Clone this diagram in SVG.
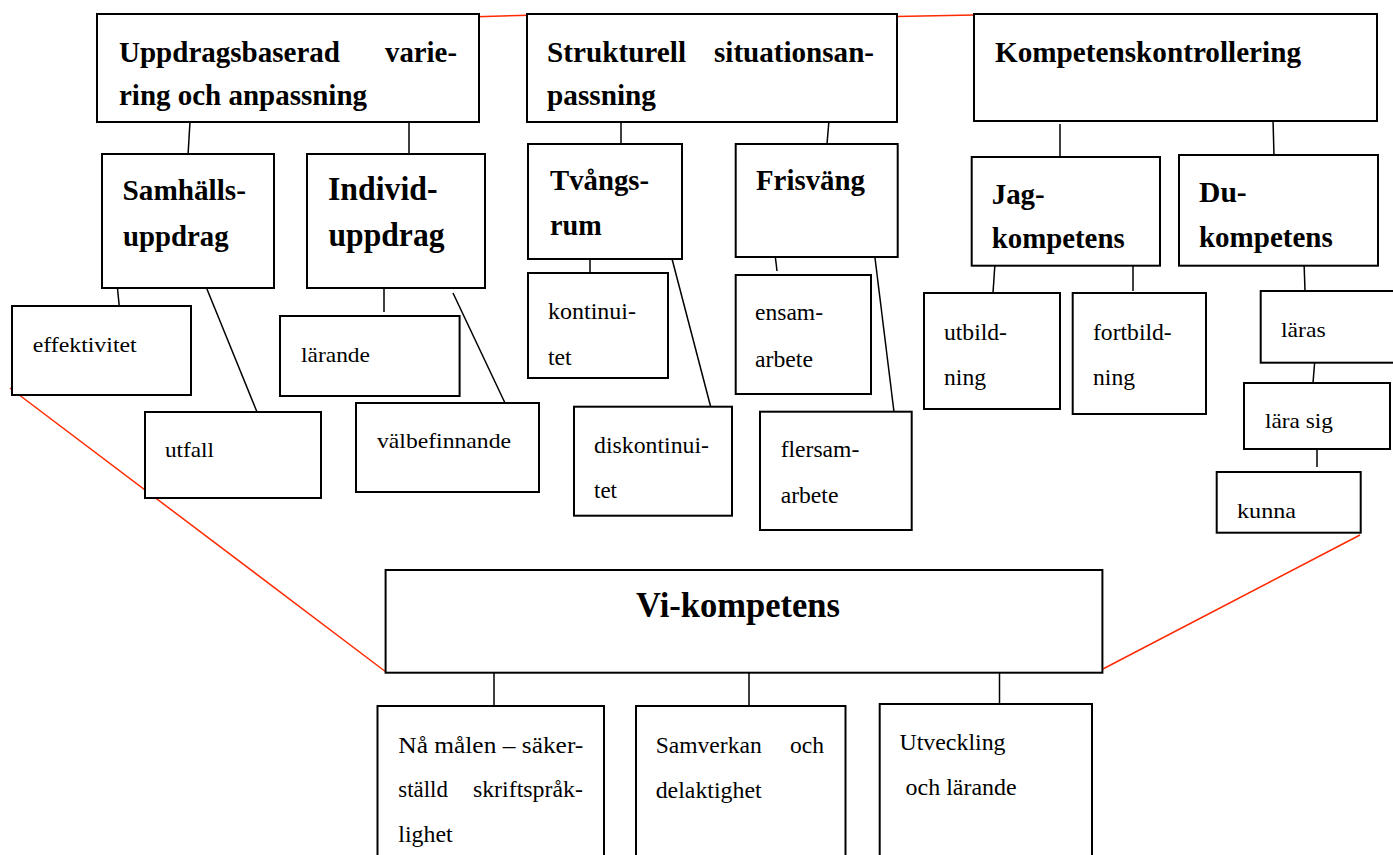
<svg xmlns="http://www.w3.org/2000/svg" width="1393" height="855" viewBox="0 0 1393 855">
<style>
  rect { fill: #fff; stroke: #000; stroke-width: 2; }
  .c { stroke: #000; stroke-width: 1.5; fill: none; }
  .r { stroke: #ff2a00; stroke-width: 1.5; fill: none; }
  text { font-family: "Liberation Serif", "Times New Roman", serif; fill: #000; }
  .h { font-weight: bold; font-size: 30px; }
  .h2 { font-weight: bold; font-size: 29px; }
  .h3 { font-weight: bold; font-size: 33px; }
  .n { font-size: 22px; }
  .b { font-size: 23px; }
  .v { font-weight: bold; font-size: 36px; }
</style>
<rect x="0" y="0" width="1393" height="855" style="stroke:none"/>
<g id="connectors">
  <line class="c" x1="190" y1="122" x2="188" y2="155"/>
  <line class="c" x1="409" y1="118" x2="409" y2="158"/>
  <line class="c" x1="621" y1="122" x2="621" y2="145"/>
  <line class="c" x1="829" y1="120" x2="827" y2="144"/>
  <line class="c" x1="1060" y1="124" x2="1060" y2="157"/>
  <line class="c" x1="1273" y1="119" x2="1274" y2="156"/>
  <line class="c" x1="117" y1="283" x2="119.5" y2="309"/>
  <line class="c" x1="204.5" y1="283" x2="257" y2="412"/>
  <line class="c" x1="384" y1="283" x2="384" y2="312"/>
  <line class="c" x1="453" y1="293" x2="505" y2="403"/>
  <line class="c" x1="590" y1="255" x2="590" y2="275"/>
  <line class="c" x1="671" y1="255" x2="711" y2="408"/>
  <line class="c" x1="775" y1="254" x2="777" y2="271"/>
  <line class="c" x1="875" y1="258" x2="894" y2="412"/>
  <line class="c" x1="995" y1="263" x2="993" y2="293"/>
  <line class="c" x1="1133" y1="266" x2="1133" y2="291"/>
  <line class="c" x1="1304" y1="261" x2="1305" y2="291"/>
  <line class="c" x1="1315" y1="358" x2="1313" y2="383"/>
  <line class="c" x1="1317" y1="449" x2="1317" y2="467"/>
  <line class="c" x1="494" y1="672" x2="494" y2="706"/>
  <line class="c" x1="749" y1="672" x2="749" y2="706"/>
  <line class="c" x1="999.5" y1="672" x2="999.5" y2="705"/>
  <line class="r" x1="477" y1="16.7" x2="529" y2="15.3"/>
  <line class="r" x1="896" y1="16.5" x2="974" y2="15"/>
  <line class="r" x1="10" y1="388" x2="386" y2="672"/>
  <line class="r" x1="1360" y1="535" x2="1101" y2="670"/>
</g>
<g id="uppdrag">
  <rect x="97" y="14" width="382" height="108"/>
  <text class="h" x="119" y="62" textLength="221" lengthAdjust="spacingAndGlyphs">Uppdragsbaserad</text>
  <text class="h" x="385" y="62" textLength="72" lengthAdjust="spacingAndGlyphs">varie-</text>
  <text class="h" x="119" y="105" textLength="248" lengthAdjust="spacingAndGlyphs">ring och anpassning</text>
</g>
<g id="strukturell">
  <rect x="527" y="14" width="370" height="108"/>
  <text class="h" x="547" y="62" textLength="139" lengthAdjust="spacingAndGlyphs">Strukturell</text>
  <text class="h" x="714" y="62" textLength="160" lengthAdjust="spacingAndGlyphs">situationsan-</text>
  <text class="h" x="547" y="105" textLength="109" lengthAdjust="spacingAndGlyphs">passning</text>
</g>
<g id="kompetenskontrollering">
  <rect x="974" y="14" width="403" height="107"/>
  <text class="h" x="995" y="62" textLength="306" lengthAdjust="spacingAndGlyphs">Kompetenskontrollering</text>
</g>
<g id="samhallsuppdrag">
  <rect x="102" y="154" width="172" height="134"/>
  <text class="h2" x="122.5" y="200" textLength="123.5" lengthAdjust="spacingAndGlyphs">Samhälls-</text>
  <text class="h2" x="123" y="246" textLength="105.6" lengthAdjust="spacingAndGlyphs">uppdrag</text>
</g>
<g id="individuppdrag">
  <rect x="307" y="154" width="178" height="134"/>
  <text class="h3" x="328" y="200" textLength="109.5" lengthAdjust="spacingAndGlyphs">Individ-</text>
  <text class="h3" x="328.5" y="246" textLength="116" lengthAdjust="spacingAndGlyphs">uppdrag</text>
</g>
<g id="tvangsrum">
  <rect x="528" y="144" width="154" height="115"/>
  <text class="h2" x="550" y="190" textLength="99" lengthAdjust="spacingAndGlyphs">Tvångs-</text>
  <text class="h2" x="550" y="235" textLength="51.7" lengthAdjust="spacingAndGlyphs">rum</text>
</g>
<g id="frisvang">
  <rect x="735.7" y="144" width="162" height="113"/>
  <text class="h2" x="756" y="190" textLength="109" lengthAdjust="spacingAndGlyphs">Frisväng</text>
</g>
<g id="jagkompetens">
  <rect x="971.7" y="157" width="188.3" height="108.7"/>
  <text class="h2" x="991.7" y="204" textLength="53" lengthAdjust="spacingAndGlyphs">Jag-</text>
  <text class="h2" x="991.7" y="248" textLength="133" lengthAdjust="spacingAndGlyphs">kompetens</text>
</g>
<g id="dukompetens">
  <rect x="1179" y="155" width="199" height="110.7"/>
  <text class="h2" x="1199" y="201.7" textLength="47.7" lengthAdjust="spacingAndGlyphs">Du-</text>
  <text class="h2" x="1199" y="246.7" textLength="133.7" lengthAdjust="spacingAndGlyphs">kompetens</text>
</g>
<g id="effektivitet">
  <rect x="12" y="306" width="179" height="89"/>
  <text class="n" x="32.7" y="351.7" textLength="104" lengthAdjust="spacingAndGlyphs">effektivitet</text>
</g>
<g id="utfall">
  <rect x="145" y="412" width="176" height="86"/>
  <text class="n" x="165" y="457" textLength="49" lengthAdjust="spacingAndGlyphs">utfall</text>
</g>
<g id="larande">
  <rect x="280" y="316" width="179.6" height="80"/>
  <text class="n" x="301" y="362" textLength="69" lengthAdjust="spacingAndGlyphs">lärande</text>
</g>
<g id="valbefinnande">
  <rect x="356" y="403" width="183" height="89"/>
  <text class="n" x="377" y="448" textLength="134" lengthAdjust="spacingAndGlyphs">välbefinnande</text>
</g>
<g id="kontinuitet">
  <rect x="528" y="273" width="140" height="105"/>
  <text class="b" x="548" y="319" textLength="88" lengthAdjust="spacingAndGlyphs">kontinui-</text>
  <text class="b" x="548" y="365" textLength="23.7" lengthAdjust="spacingAndGlyphs">tet</text>
</g>
<g id="diskontinuitet">
  <rect x="574" y="406.7" width="158" height="109"/>
  <text class="b" x="594" y="453" textLength="115" lengthAdjust="spacingAndGlyphs">diskontinui-</text>
  <text class="b" x="594" y="498" textLength="23" lengthAdjust="spacingAndGlyphs">tet</text>
</g>
<g id="ensamarbete">
  <rect x="735.7" y="275" width="135.3" height="119"/>
  <text class="b" x="755" y="320" textLength="68" lengthAdjust="spacingAndGlyphs">ensam-</text>
  <text class="b" x="755" y="367" textLength="58" lengthAdjust="spacingAndGlyphs">arbete</text>
</g>
<g id="flersamarbete">
  <rect x="760" y="411.7" width="151.7" height="118.3"/>
  <text class="b" x="780.7" y="457" textLength="78.6" lengthAdjust="spacingAndGlyphs">flersam-</text>
  <text class="b" x="780.7" y="503" textLength="57.7" lengthAdjust="spacingAndGlyphs">arbete</text>
</g>
<g id="utbildning">
  <rect x="924" y="293" width="136" height="116"/>
  <text class="b" x="944" y="340" textLength="63" lengthAdjust="spacingAndGlyphs">utbild-</text>
  <text class="b" x="944" y="385" textLength="42" lengthAdjust="spacingAndGlyphs">ning</text>
</g>
<g id="fortbildning">
  <rect x="1072.7" y="293" width="133.3" height="121"/>
  <text class="b" x="1093" y="340" textLength="78.7" lengthAdjust="spacingAndGlyphs">fortbild-</text>
  <text class="b" x="1093" y="385" textLength="42" lengthAdjust="spacingAndGlyphs">ning</text>
</g>
<g id="laras">
  <rect x="1260.7" y="291" width="140" height="71.7"/>
  <text class="n" x="1281" y="337" textLength="44.7" lengthAdjust="spacingAndGlyphs">läras</text>
</g>
<g id="larasig">
  <rect x="1244" y="383" width="146" height="66"/>
  <text class="n" x="1265" y="428" textLength="68" lengthAdjust="spacingAndGlyphs">lära sig</text>
</g>
<g id="kunna">
  <rect x="1216.7" y="472" width="144" height="60.7"/>
  <text class="n" x="1237" y="518" textLength="59" lengthAdjust="spacingAndGlyphs">kunna</text>
</g>
<g id="vikompetens">
  <rect x="385.6" y="570" width="716.8" height="102.7"/>
  <text class="v" x="636" y="617" textLength="204" lengthAdjust="spacingAndGlyphs">Vi-kompetens</text>
</g>
<g id="namalen">
  <rect x="377.5" y="706" width="226.5" height="160"/>
  <text class="b" x="398.3" y="752.7" textLength="185" lengthAdjust="spacingAndGlyphs">Nå målen – säker-</text>
  <text class="b" x="398.3" y="796.7" textLength="49.6" lengthAdjust="spacingAndGlyphs">ställd</text>
  <text class="b" x="472.9" y="796.7" textLength="110" lengthAdjust="spacingAndGlyphs">skriftspråk-</text>
  <text class="b" x="398.3" y="841.7" textLength="54.3" lengthAdjust="spacingAndGlyphs">lighet</text>
</g>
<g id="samverkan">
  <rect x="636" y="706" width="209.5" height="160"/>
  <text class="b" x="655.7" y="753" textLength="106" lengthAdjust="spacingAndGlyphs">Samverkan</text>
  <text class="b" x="790" y="753" textLength="34" lengthAdjust="spacingAndGlyphs">och</text>
  <text class="b" x="655.7" y="798" textLength="106" lengthAdjust="spacingAndGlyphs">delaktighet</text>
</g>
<g id="utveckling">
  <rect x="879.7" y="704" width="212.3" height="160"/>
  <text class="b" x="899.5" y="750" textLength="106" lengthAdjust="spacingAndGlyphs">Utveckling</text>
  <text class="b" x="905.6" y="795" textLength="111" lengthAdjust="spacingAndGlyphs">och lärande</text>
</g>
</svg>
